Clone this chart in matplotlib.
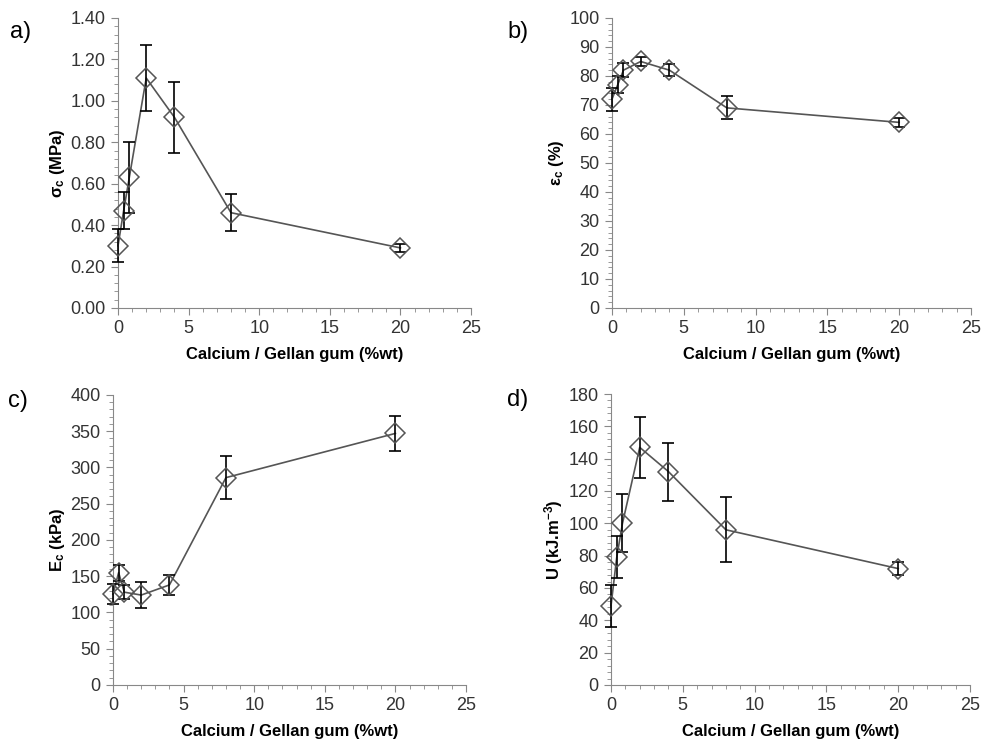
import numpy as np
import matplotlib
matplotlib.use('Agg')
from matplotlib import pyplot as plt
from matplotlib.ticker import MultipleLocator, FormatStrFormatter

plt.rcParams['font.family'] = ['Liberation Sans', 'DejaVu Sans']
plt.rcParams['mathtext.fontset'] = 'custom'
plt.rcParams['mathtext.bf'] = 'Liberation Sans:bold'
plt.rcParams['mathtext.rm'] = 'Liberation Sans:bold'
plt.rcParams['mathtext.default'] = 'bf'

# calcium / gellan ratio (%wt)
ratio = [0, 0.4, 0.8, 2, 4, 8, 20]

# a) compressive stress (MPa)
stress = [0.30, 0.47, 0.63, 1.11, 0.92, 0.46, 0.29]
stress_err = [0.08, 0.09, 0.17, 0.16, 0.17, 0.09, 0.02]

# b) strain at failure (%)
strain = [72, 77, 82, 85, 82, 69, 64]
strain_err = [4, 3, 2.5, 1.5, 2, 4, 1.5]

# c) modulus (kPa)
modulus = [125, 155, 128, 124, 138, 286, 347]
modulus_err = [14, 11, 10, 18, 14, 30, 24]

# d) toughness (kJ.m-3)
tough = [49, 79, 100, 147, 132, 96, 72]
tough_err = [13, 13, 18, 19, 18, 20, 4]

panels = [
    ('a)', stress, stress_err, r'$\sigma_c$ (MPa)', (0, 1.4), 0.2, 0.04, '%.2f',
     [0.1198, 0.5855, 0.3584, 0.3903], (0.010, 0.972)),
    ('b)', strain, strain_err, r'$\epsilon_c$ (%)', (0, 100), 10, 2, '%d',
     [0.6213, 0.5855, 0.3645, 0.3903], (0.515, 0.972)),
    ('c)', modulus, modulus_err, r'E$_c$ (kPa)', (0, 400), 50, 10, '%d',
     [0.1147, 0.0781, 0.3584, 0.3903], (0.008, 0.475)),
    ('d)', tough, tough_err, r'U (kJ.m$^{-3}$)', (0, 180), 20, 4, '%d',
     [0.6203, 0.0781, 0.3645, 0.3916], (0.515, 0.477)),
]

fig = plt.figure(figsize=(9.85, 7.43), dpi=100)
tick_col = '#333333'
spine_col = '#888888'

for name, y, yerr, ylab, ylim, major, minor, fmt, pos, lpos in panels:
    ax = fig.add_axes(pos)
    ax.plot(ratio, y, '-', color='#555555', lw=1.2, zorder=2, clip_on=False)
    ax.errorbar(ratio, y, yerr=yerr, fmt='none', ecolor='black', elinewidth=1.2,
                capsize=4, capthick=1.2, zorder=3, clip_on=False)
    ax.plot(ratio, y, 'D', ms=10, mfc='none', mec='#555555', mew=1.1, zorder=4,
            clip_on=False)
    ax.set_xlim(0, 25)
    ax.set_ylim(*ylim)
    ax.xaxis.set_major_locator(MultipleLocator(5))
    ax.xaxis.set_minor_locator(MultipleLocator(1))
    ax.yaxis.set_major_locator(MultipleLocator(major))
    ax.yaxis.set_minor_locator(MultipleLocator(minor))
    ax.yaxis.set_major_formatter(FormatStrFormatter(fmt))
    for s in ['top', 'right']:
        ax.spines[s].set_visible(False)
    for s in ['left', 'bottom']:
        ax.spines[s].set_color(spine_col)
    ax.tick_params(which='major', length=5, color=spine_col, labelsize=13,
                   labelcolor=tick_col, pad=4)
    ax.tick_params(which='minor', length=3, color=spine_col)
    ax.set_xlabel('Calcium / Gellan gum (%wt)', fontsize=12, fontweight='bold', labelpad=7)
    ax.set_ylabel(ylab, fontsize=12, fontweight='bold', labelpad=2)
    fig.text(lpos[0], lpos[1], name, fontsize=17, ha='left', va='top')

plt.savefig('out.png', dpi=100)
